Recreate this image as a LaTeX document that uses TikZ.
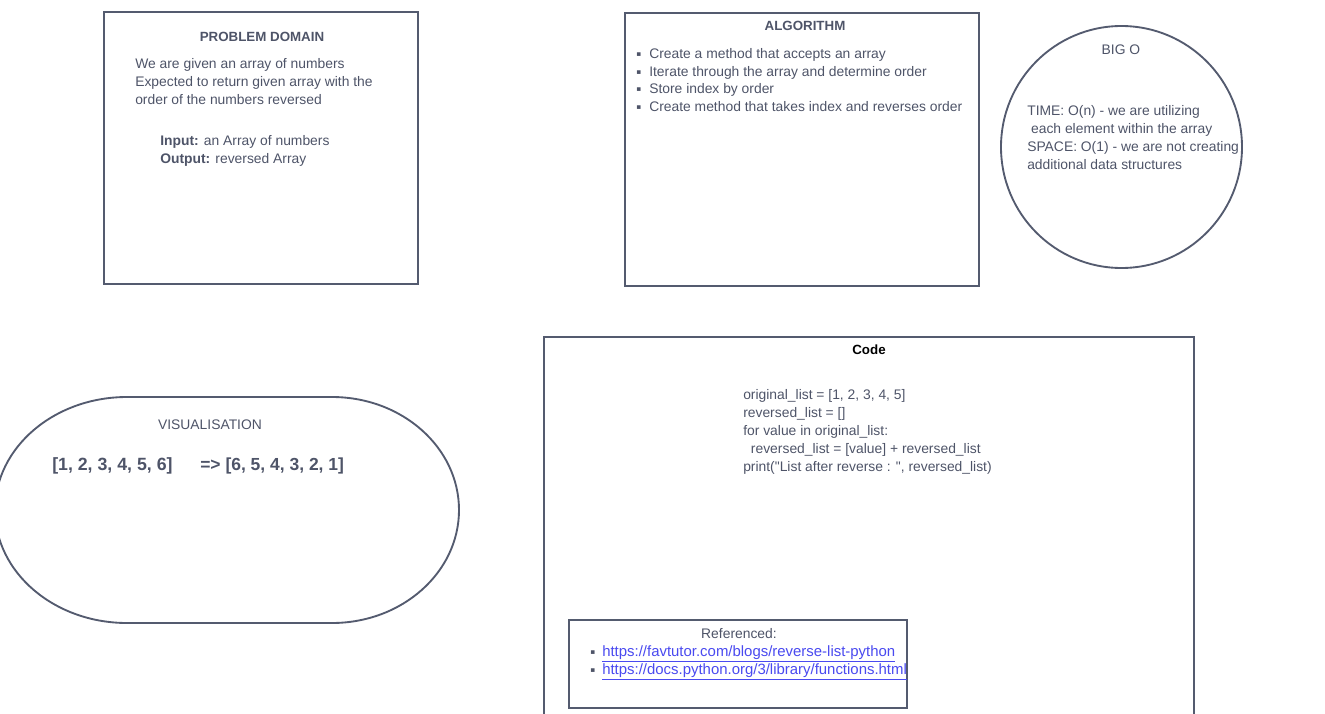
\documentclass[tikz,border=0pt]{standalone}
\usepackage{fontspec}
\setmainfont{Liberation Sans}
\newfontfamily\symfont{DejaVu Sans}
\usetikzlibrary{shapes.geometric}
\definecolor{ink}{HTML}{4E5468}
\definecolor{edge}{HTML}{545B6F}
\definecolor{linkblue}{HTML}{4A4AF0}
\tikzset{
  box/.style={draw=edge, line width=1.4pt, rectangle, inner sep=0},
  txt/.style={text=ink, font=\fontsize{10.4}{12}\selectfont, anchor=base west, inner sep=0},
  head/.style={txt, anchor=base, font=\fontsize{10}{12}\selectfont\bfseries},
  dot/.style={txt, font=\fontsize{5.5}{8}\symfont},
}
\begin{document}
\begin{tikzpicture}[x=0.75pt, y=-0.75pt]
    \useasboundingbox (0,0) rectangle (1325,714);
    \clip (0,0) rectangle (1325,714);

    % frames
    \node[box, minimum width=235.5pt, minimum height=204pt] (pd) at (261,148) {};
    \node[box, minimum width=265.5pt, minimum height=204.75pt] (algo) at (802,149.5) {};
    \node[box, ellipse, minimum width=180.75pt, minimum height=181.5pt] (bigo) at (1121.5,147) {};
    \node[box, minimum width=487.5pt, minimum height=294.75pt] (code) at (869,533.5) {};
    \node[box, minimum width=253.5pt, minimum height=66pt, fill=white] (refs) at (738,664) {};
    \draw[draw=edge, line width=1.4pt] (127,397) -- (332,397)
      arc[start angle=90, end angle=-90, x radius=95.25pt, y radius=84.75pt]
      -- (127,623)
      arc[start angle=270, end angle=90, x radius=99pt, y radius=84.75pt] -- cycle;

    % problem domain
    \node[head] (pdhead) at (262,41.5) {PROBLEM DOMAIN};
    \foreach [count=\i] \line in {We are given an array of numbers,
        Expected to return given array with the,
        order of the numbers reversed} {
      \node[txt] (pd\i) at (135,50.5+18*\i) {\line};
    }
    \node[txt] (pdin) at (160,145.5) {\textbf{Input:} an Array of numbers};
    \node[txt] (pdout) at (160,163.5) {\textbf{Output:} reversed Array};

    % algorithm
    \node[head] (algohead) at (805,30.5) {ALGORITHM};
    \foreach [count=\i] \line in {Create a method that accepts an array,
        Iterate through the array and determine order,
        Store index by order,
        Create method that takes index and reverses order} {
      \node[dot] (ad\i) at (636,38.8+17.7*\i) {▪};
      \node[txt] (al\i) at (649,40.8+17.7*\i) {\line};
    }

    % big o
    \node[txt, anchor=base] (bighead) at (1121,54.5) {BIG O};
    \foreach [count=\i] \line in {TIME: O(n) - we are utilizing,
        \ each element within the array,
        SPACE: O(1) - we are not creating,
        additional data structures} {
      \node[txt] (bo\i) at (1027,97.5+18*\i) {\line};
    }

    % visualisation
    \node[txt, anchor=base] (vishead) at (210,429.5) {VISUALISATION};
    \node[txt, font=\fontsize{13.3}{15}\selectfont\bfseries] (visin) at (52,470) {[1, 2, 3, 4, 5, 6]};
    \node[txt, font=\fontsize{13.1}{15}\selectfont\bfseries] (visout) at (200,470) {=> [6, 5, 4, 3, 2, 1]};

    % code
    \node[head, text=black] (codehead) at (869,354) {Code};
    \foreach [count=\i] \line in {{original\_list = [1, 2, 3, 4, 5]},
        reversed\_list = [],
        for value in original\_list:,
        \ \ reversed\_list = [value] + reversed\_list,
        {print(\textquotedbl List after reverse : \textquotedbl, reversed\_list)}} {
      \node[txt] (cl\i) at (743,381.5+18*\i) {\line};
    }

    % references
    \node[txt, anchor=base] (refhead) at (739,638.5) {Referenced:};
    \foreach [count=\i] \url in {https://favtutor.com/blogs/reverse-list-python,
        https://docs.python.org/3/library/functions.html} {
      \node[dot] (rd\i) at (590,636.5+18*\i) {▪};
      \node[txt, text=linkblue, font=\fontsize{11.2}{12}\selectfont] (rl\i) at (602,638.5+18*\i) {\underline{\url}};
    }
\end{tikzpicture}
\end{document}
